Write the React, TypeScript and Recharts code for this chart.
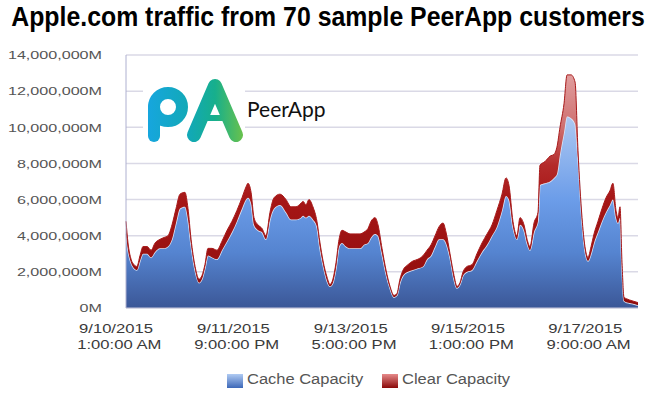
import React from 'react';
import { AreaChart, Area, XAxis, YAxis, CartesianGrid } from 'recharts';

// Hours since 9/10/2015 1:00 AM
const hours = [
  0, 0.75, 1.9, 3, 4.1, 5.25, 6.4, 7.9, 9.4, 10.9, 12.75, 14.25, 15.75, 17.25, 18.75, 20.25,
  22.1, 23.25, 24.4, 25.9, 27.4, 28.5, 29.6, 30.75, 32.25, 34.1, 36, 37.9, 39.75, 41.6, 43.5, 45,
  45.75, 46.9, 48, 49.5, 51, 52.5, 54, 55.5, 57.75, 60, 61.9, 63.75, 65.6, 66.4, 67.5, 68.6,
  70.1, 71.6, 72.75, 73.9, 75.4, 76.5, 77.6, 78.75, 79.9, 81, 82.5, 84, 85.9, 87.75, 89.25, 90.75,
  91.9, 93.4, 94.5, 96, 97.5, 99, 100.5, 101.6, 102.75, 103.9, 105.75, 107.6, 109.5, 111.4, 112.9, 114.4,
  115.9, 117.4, 118.9, 120, 121.5, 123, 124.1, 125.25, 126.4, 127.9, 129.75, 131.6, 133.5, 135.4, 137.25, 139.1,
  141, 142.5, 143.6, 145.1, 146.6, 147.75, 149.25, 150.4, 151.5, 153, 154.5, 155.25, 157.1, 159, 160.5, 161.6,
  162.75, 164.25, 165.4, 166.9, 168.4, 169.5, 171, 172.1, 173.25, 174.4, 175.5, 177, 178.5, 180, 181.5, 182.6,
  183.75, 184.5, 185.25, 186, 186.75, 187.9, 189.75, 192,
];

// Cache Capacity, millions of M
const cacheCapacity = [
  4.1, 3.2, 2.5, 2.2, 2.1, 2.6, 3.0, 3.0, 2.8, 3.1, 3.3, 3.3, 3.4, 3.8, 4.7, 5.5,
  5.6, 4.9, 3.5, 2.1, 1.4, 1.6, 2.2, 2.9, 2.8, 2.7, 3.2, 3.7, 4.2, 4.8, 5.5, 6.0,
  6.1, 5.8, 4.6, 4.3, 4.2, 3.8, 4.9, 5.5, 5.7, 5.3, 4.9, 4.9, 5.0, 5.1, 5.0, 5.1,
  4.9, 4.5, 3.3, 2.4, 1.5, 1.2, 1.4, 2.2, 3.4, 3.6, 3.4, 3.3, 3.3, 3.3, 3.5, 3.6,
  3.9, 4.1, 4.0, 3.0, 1.9, 1.1, 0.6, 0.7, 1.4, 1.8, 2.0, 2.1, 2.2, 2.3, 2.7, 2.9,
  3.4, 3.8, 3.8, 3.6, 2.8, 1.6, 1.1, 1.3, 1.8, 2.0, 2.1, 2.6, 3.1, 3.5, 4.0, 4.5,
  5.4, 6.2, 6.0, 4.5, 3.8, 4.6, 4.3, 3.6, 3.2, 4.2, 4.8, 6.8, 6.9, 7.0, 7.2, 7.4,
  8.5, 9.7, 10.6, 10.5, 10.2, 8.3, 4.8, 3.2, 2.6, 3.0, 3.6, 4.2, 4.8, 5.3, 5.7, 6.0,
  5.0, 4.7, 5.0, 2.2, 0.4, 0.3, 0.25, 0.15,
];

// Clear Capacity, millions of M
const clearCapacity = [
  0.7, 0.4, 0.2, 0.2, 0.2, 0.3, 0.4, 0.4, 0.4, 0.5, 0.5, 0.6, 0.6, 0.8, 0.8, 0.8,
  0.8, 0.6, 0.3, 0.2, 0.2, 0.2, 0.2, 0.4, 0.5, 0.5, 0.5, 0.6, 0.6, 0.6, 0.6, 0.7,
  0.8, 0.6, 0.4, 0.3, 0.2, 0.2, 0.4, 0.6, 0.6, 0.7, 0.7, 0.7, 0.8, 0.8, 0.7, 0.9,
  0.7, 0.3, 0.3, 0.2, 0.2, 0.1, 0.2, 0.3, 0.4, 0.7, 0.8, 0.8, 0.8, 0.8, 0.7, 0.8,
  0.9, 0.9, 0.6, 0.3, 0.2, 0.1, 0.1, 0.1, 0.2, 0.3, 0.4, 0.5, 0.5, 0.6, 0.5, 0.6,
  0.6, 0.7, 0.9, 0.6, 0.2, 0.2, 0.1, 0.1, 0.2, 0.3, 0.3, 0.4, 0.5, 0.6, 0.6, 0.9,
  0.9, 1.0, 0.8, 0.3, 0.2, 0.4, 0.3, 0.2, 0.2, 0.5, 0.5, 1.1, 1.2, 1.4, 1.3, 1.5,
  1.5, 1.6, 2.3, 2.4, 2.3, 0.4, 0.2, 0.2, 0.2, 0.4, 0.5, 0.6, 0.7, 0.8, 0.8, 0.9,
  0.4, 0.3, 0.6, 0.3, 0.2, 0.2, 0.15, 0.15,
];

const xTickHours = [0, 44, 88, 132, 176];
const xTickDates = ['9/10/2015', '9/11/2015', '9/13/2015', '9/15/2015', '9/17/2015'];
const xTickTimes = ['1:00:00 AM', '9:00:00 PM', '5:00:00 PM', '1:00:00 PM', '9:00:00 AM'];
const yTicks = [0, 2e6, 4e6, 6e6, 8e6, 10e6, 12e6, 14e6];

const data = hours.map((h, i) => ({
  h,
  cache: cacheCapacity[i] * 1e6,
  clear: clearCapacity[i] * 1e6,
}));

const FONT = '"Liberation Sans", Arial, sans-serif';

const fmtM = (v: number) => String(Math.round(v)).replace(/\B(?=(\d{3})+(?!\d))/g, ',') + 'M';

// the source image was stretched sideways, so the texts are widened a little
const XTick = (props: any) => {
  const { x, y, payload } = props;
  const i = xTickHours.indexOf(payload.value);
  return (
    <g transform={`translate(${x - 10},${y}) scale(1.32,1)`}>
      <text textAnchor="middle" fill="#3a3a3a" fontSize={12.6} fontFamily={FONT}>
        <tspan x={0} y={25.3}>{xTickDates[i]}</tspan>
        <tspan x={2.5} y={41}>{xTickTimes[i]}</tspan>
      </text>
    </g>
  );
};

const YTick = (props: any) => {
  const { x, y, payload } = props;
  return (
    <g transform={`translate(${x},${y}) scale(1.39,1)`}>
      <text textAnchor="end" fill="#555" fontSize={11.6} fontFamily={FONT} y={4.3}>
        {fmtM(payload.value)}
      </text>
    </g>
  );
};

const Logo = () => (
  <svg width={656} height={396} style={{ position: 'absolute', left: 0, top: 0, pointerEvents: 'none' }}>
    <defs>
      <linearGradient id="paGrad" gradientUnits="userSpaceOnUse" x1={148} y1={0} x2={244} y2={0}>
        <stop offset="0" stopColor="#16a6de" />
        <stop offset="0.45" stopColor="#12a9b4" />
        <stop offset="0.7" stopColor="#17af8c" />
        <stop offset="1" stopColor="#6cc24a" />
      </linearGradient>
    </defs>
    <rect x={143} y={70} width={102} height={77} fill="#fff" />
    <circle cx={168} cy={107} r={14} fill="none" stroke="url(#paGrad)" strokeWidth={12} />
    <line x1={154} y1={107} x2={154} y2={136} stroke="url(#paGrad)" strokeWidth={12} strokeLinecap="round" />
    <path d="M194 135 L215 86 L236 135" fill="none" stroke="url(#paGrad)" strokeWidth={14} strokeLinecap="round" strokeLinejoin="round" />
    <line x1={205} y1={118} x2={225} y2={118} stroke="url(#paGrad)" strokeWidth={6} />
    <text x={247} y={117} fontSize={21} fontFamily="Lato, sans-serif" fill="#111">PeerApp</text>
  </svg>
);

const Title = () => (
  <svg width={656} height={40} style={{ position: 'absolute', left: 0, top: 0 }}>
    <g transform="translate(328,26) scale(0.92,1)">
      <text textAnchor="middle" fontFamily={FONT} fontWeight="bold" fontSize={27} fill="#000">
        Apple.com traffic from 70 sample PeerApp customers
      </text>
    </g>
  </svg>
);

const Legend = () => (
  <svg width={656} height={30} style={{ position: 'absolute', left: 0, top: 366 }}>
    <defs>
      <linearGradient id="lgBlue" x1={0} y1={0} x2={0} y2={1}>
        <stop offset="0" stopColor="#b0cbf3" />
        <stop offset="1" stopColor="#3d68b8" />
      </linearGradient>
      <linearGradient id="lgRed" x1={0} y1={0} x2={0} y2={1}>
        <stop offset="0" stopColor="#e68a8a" />
        <stop offset="1" stopColor="#8b0a0a" />
      </linearGradient>
    </defs>
    <rect x={227} y={8} width={16} height={14} fill="url(#lgBlue)" />
    <g transform="translate(247,18) scale(1.1,1)">
      <text fontFamily={FONT} fontSize={15} fill="#555">Cache Capacity</text>
    </g>
    <rect x={382} y={8} width={16} height={14} fill="url(#lgRed)" />
    <g transform="translate(402,18) scale(1.1,1)">
      <text fontFamily={FONT} fontSize={15} fill="#555">Clear Capacity</text>
    </g>
  </svg>
);

export default function App() {
  return (
    <div style={{ position: 'absolute', left: 0, top: 0, width: 656, height: 396, background: '#fff', overflow: 'hidden' }}>
      <AreaChart width={656} height={396} data={data} margin={{ top: 55, right: 18, bottom: 28, left: 0 }}>
        <defs>
          <linearGradient id="cacheGrad" gradientUnits="userSpaceOnUse" x1={0} y1={110} x2={0} y2={308}>
            <stop offset="0" stopColor="#b3ccf3" />
            <stop offset="0.45" stopColor="#6c9de9" />
            <stop offset="0.72" stopColor="#5584d0" />
            <stop offset="1" stopColor="#3b5797" />
          </linearGradient>
          <linearGradient id="clearGrad" gradientUnits="userSpaceOnUse" x1={0} y1={70} x2={0} y2={308}>
            <stop offset="0" stopColor="#e2a2a2" />
            <stop offset="0.24" stopColor="#cf7070" />
            <stop offset="0.4" stopColor="#b42a2a" />
            <stop offset="0.55" stopColor="#a51616" />
            <stop offset="1" stopColor="#8e0c0c" />
          </linearGradient>
        </defs>
        <CartesianGrid vertical={false} stroke="#dad9e6" strokeWidth={1.5} />
        <XAxis
          dataKey="h"
          type="number"
          domain={[0, 192]}
          ticks={xTickHours}
          interval={0}
          height={60}
          tickLine={false}
          tickSize={0}
          tickMargin={0}
          axisLine={{ stroke: '#c9c9dc' }}
          tick={<XTick />}
        />
        <YAxis
          domain={[0, 14e6]}
          ticks={yTicks}
          interval={0}
          width={126}
          tickLine={false}
          tickSize={0}
          tickMargin={24}
          axisLine={{ stroke: '#aeb0d0' }}
          tick={<YTick />}
        />
        <Area
          type="monotone"
          dataKey="cache"
          stackId="a"
          fill="url(#cacheGrad)"
          fillOpacity={1}
          stroke="#dbe6f7"
          strokeWidth={1.5}
          isAnimationActive={false}
        />
        <Area
          type="monotone"
          dataKey="clear"
          stackId="a"
          fill="url(#clearGrad)"
          fillOpacity={1}
          stroke="#a81a1a"
          strokeWidth={1}
          isAnimationActive={false}
        />
      </AreaChart>
      <Title />
      <Logo />
      <Legend />
    </div>
  );
}
